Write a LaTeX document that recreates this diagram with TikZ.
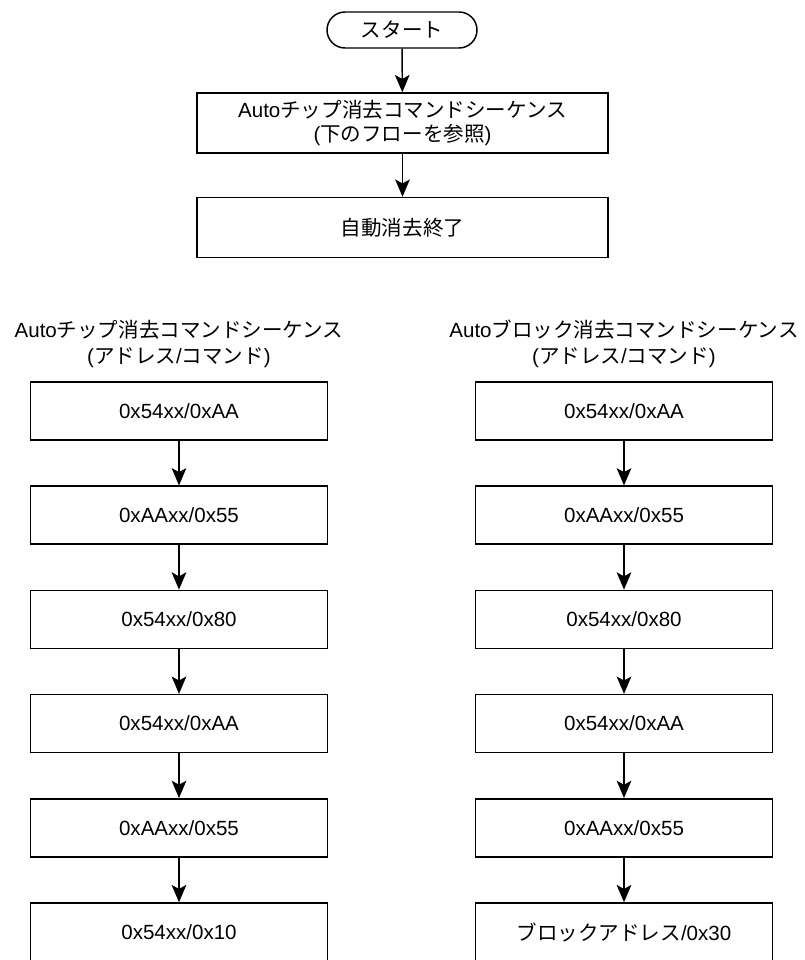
\documentclass[tikz,border=0pt]{standalone}
\usepackage{fontspec}
\setmainfont{Liberation Sans}
\newfontfamily\jp{Noto Sans CJK JP}
\usetikzlibrary{arrows.meta}
\begin{document}
\begin{tikzpicture}[x=0.75pt,y=-0.75pt,
  txt/.style={font=\fontsize{15.4}{18.5}\selectfont},
  box/.style={draw,line width=1.1pt,minimum width=222.75pt,minimum height=43.5pt,inner sep=0pt,txt},
  topbox/.style={draw,line width=1.1pt,minimum width=308.25pt,minimum height=45pt,inner sep=0pt,align=center,txt},
  startbox/.style={draw,line width=1.1pt,minimum width=112.5pt,minimum height=27pt,inner sep=0pt,rounded corners=13.5pt,txt},
  title/.style={align=center,font=\fontsize{15.4}{19.5}\selectfont},
  arr/.style={line width=1.1pt,-{Stealth[length=13pt,width=11pt,inset=3pt]}}
]
\useasboundingbox (0,0) rectangle (804,960);
\clip (0,0) rectangle (804,960);

% top flow
\node[startbox] (s) at (402,30) {\jp スタート};
\node[topbox] (t1) at (402.5,123) {Auto{\jp チップ消去コマンドシーケンス}\\({\jp 下のフローを参照})};
\node[topbox] (t2) at (402.5,227.5) {\jp 自動消去終了};
\draw[arr] (s) -- (t1);
\draw[arr] (t1) -- (t2);

% titles
\node[title] (lt) at (179,344) {Auto{\jp チップ消去コマンドシーケンス}\\({\jp アドレス}/{\jp コマンド})};
\node[title] (rt) at (624,344) {Auto{\jp ブロック消去コマンドシーケンス}\\({\jp アドレス}/{\jp コマンド})};

% left column
\node[box] (l1) at (179,411) {0x54xx/0xAA};
\node[box] (l2) at (179,515.2) {0xAAxx/0x55};
\node[box] (l3) at (179,619.4) {0x54xx/0x80};
\node[box] (l4) at (179,723.6) {0x54xx/0xAA};
\node[box] (l5) at (179,827.8) {0xAAxx/0x55};
\node[box] (l6) at (179,932) {0x54xx/0x10};
\draw[arr] (l1) -- (l2);
\draw[arr] (l2) -- (l3);
\draw[arr] (l3) -- (l4);
\draw[arr] (l4) -- (l5);
\draw[arr] (l5) -- (l6);

% right column
\node[box] (r1) at (624,411) {0x54xx/0xAA};
\node[box] (r2) at (624,515.2) {0xAAxx/0x55};
\node[box] (r3) at (624,619.4) {0x54xx/0x80};
\node[box] (r4) at (624,723.6) {0x54xx/0xAA};
\node[box] (r5) at (624,827.8) {0xAAxx/0x55};
\node[box] (r6) at (624,932) {{\jp ブロックアドレス}/0x30};
\draw[arr] (r1) -- (r2);
\draw[arr] (r2) -- (r3);
\draw[arr] (r3) -- (r4);
\draw[arr] (r4) -- (r5);
\draw[arr] (r5) -- (r6);
\end{tikzpicture}
\end{document}
